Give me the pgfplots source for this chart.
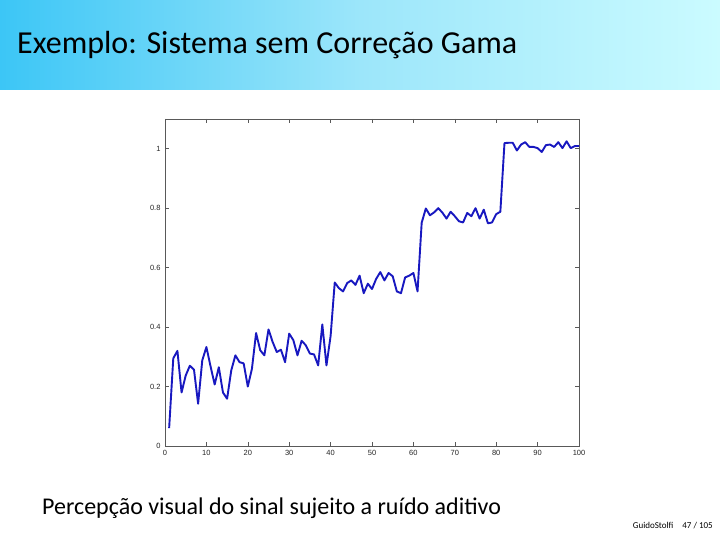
\documentclass[border=0pt]{standalone}
\usepackage{fontspec}
\setmainfont{Carlito}
\newfontfamily\tickfont{Liberation Sans}
\usepackage{pgfplots}
\pgfplotsset{compat=1.18}
\definecolor{barL}{HTML}{3CC6F6}
\definecolor{barM}{HTML}{9CE6FA}
\definecolor{barR}{HTML}{CBFBFF}
\definecolor{sig}{HTML}{1818C0}
\begin{document}
\begin{tikzpicture}[x=1pt,y=1pt]
\fill[white] (0,0) rectangle (720,540);
\shade[left color=barL, right color=barR, middle color=barM] (0,450) rectangle (720,540);
\node[anchor=base west, inner sep=0pt, font=\fontsize{32}{34}\selectfont] at (17,486) {Exemplo: Sistema sem Correção Gama};
\node[anchor=base west, inner sep=0pt, font=\fontsize{24}{26}\selectfont] at (42,25) {Percepção visual do sinal sujeito a ruído aditivo};
\node[anchor=base east, inner sep=0pt, font=\fontsize{9}{10}\selectfont] at (713,11) {GuidoStolfi\quad 47 / 105};
\begin{axis}[at={(165pt,94pt)}, anchor=south west, scale only axis,
  width=414pt, height=327pt,
  xmin=0, xmax=100, ymin=0, ymax=1.1,
  xtick={0,10,...,100}, ytick={0,0.2,0.4,0.6,0.8,1},
  tick align=inside, major tick length=4pt,
  axis line style={black!65, line width=0.5pt},
  tick style={black!65, line width=0.5pt},
  tick label style={font=\tickfont\fontsize{7.5}{8}\selectfont, text=black!85},
  /pgf/number format/assume math mode=true,
  xticklabel style={yshift=-1pt},
  yticklabel style={xshift=-1pt},
  axis background/.style={fill=white},
  clip=false]
\addplot[sig, line width=1.9pt, line join=round] coordinates {
(1,0.06) (2,0.295) (3,0.32) (4,0.18) (5,0.237) (6,0.27) (7,0.257) (8,0.142) (9,0.288) (10,0.333)
(11,0.268) (12,0.207) (13,0.265) (14,0.18) (15,0.159) (16,0.254) (17,0.305) (18,0.282) (19,0.278) (20,0.20)
(21,0.26) (22,0.38) (23,0.322) (24,0.305) (25,0.392) (26,0.35) (27,0.316) (28,0.324) (29,0.282) (30,0.378)
(31,0.356) (32,0.305) (33,0.354) (34,0.339) (35,0.311) (36,0.308) (37,0.271) (38,0.409) (39,0.271) (40,0.37)
(41,0.55) (42,0.531) (43,0.52) (44,0.548) (45,0.557) (46,0.542) (47,0.573) (48,0.514) (49,0.546) (50,0.528)
(51,0.562) (52,0.585) (53,0.557) (54,0.582) (55,0.571) (56,0.52) (57,0.514) (58,0.567) (59,0.573) (60,0.582)
(61,0.52) (62,0.751) (63,0.799) (64,0.776) (65,0.786) (66,0.80) (67,0.785) (68,0.765) (69,0.788) (70,0.773)
(71,0.756) (72,0.752) (73,0.784) (74,0.773) (75,0.80) (76,0.765) (77,0.795) (78,0.749) (79,0.752) (80,0.78)
(81,0.788) (82,1.019) (83,1.02) (84,1.02) (85,0.994) (86,1.014) (87,1.022) (88,1.006) (89,1.006) (90,1.002)
(91,0.989) (92,1.012) (93,1.014) (94,1.006) (95,1.022) (96,1.002) (97,1.025) (98,1.002) (99,1.009) (100,1.009)
};
\end{axis}
\end{tikzpicture}
\end{document}
